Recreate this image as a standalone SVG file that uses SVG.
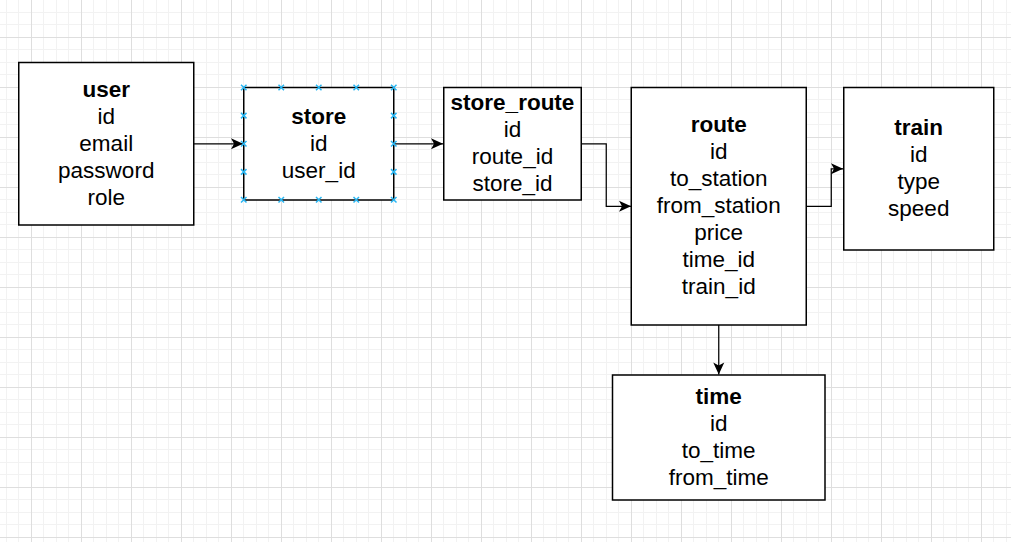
<svg xmlns="http://www.w3.org/2000/svg" width="1011" height="542" viewBox="0 0 1011 542">
<style>
.box{fill:#ffffff;stroke:#000000;stroke-width:1.5}
.t{font-family:"Liberation Sans",Arial,sans-serif;font-size:22.5px;fill:#000000;text-anchor:middle}
.b{font-weight:bold}
.edge{fill:none;stroke:#000000;stroke-width:1.25}
.sel{stroke:#29b6f2;stroke-width:1.5;fill:none}
</style>
<defs>
<pattern id="grid" patternUnits="userSpaceOnUse" x="31" y="37" width="50" height="50">
<rect x="12" y="0" width="1" height="50" fill="#f2f2f2"/>
<rect x="25" y="0" width="1" height="50" fill="#f2f2f2"/>
<rect x="37" y="0" width="1" height="50" fill="#f2f2f2"/>
<rect x="0" y="12" width="50" height="1" fill="#f2f2f2"/>
<rect x="0" y="25" width="50" height="1" fill="#f2f2f2"/>
<rect x="0" y="37" width="50" height="1" fill="#f2f2f2"/>
<rect x="0" y="0" width="1" height="50" fill="#dedede"/>
<rect x="0" y="0" width="50" height="1" fill="#dedede"/>
</pattern>
<marker id="arrow" markerUnits="userSpaceOnUse" markerWidth="16" markerHeight="14" viewBox="-14 -7 16 14" refX="0" refY="0" orient="auto">
<path d="M0,0 L-12,-5.5 L-9,0 L-12,5.5 Z" fill="#000000"/>
</marker>
</defs>
<rect x="0" y="0" width="1011" height="542" fill="#ffffff"/>
<rect x="0" y="0" width="1011" height="542" fill="url(#grid)"/>

<g id="connectors">
<path class="edge" d="M193.75,143.75 L243,143.75" marker-end="url(#arrow)"/>
<path class="edge" d="M393.75,143.75 L443,143.75" marker-end="url(#arrow)"/>
<path class="edge" d="M581.25,143.75 L606.25,143.75 L606.25,206.25 L631,206.25" marker-end="url(#arrow)"/>
<path class="edge" d="M806.25,206.25 L831.25,206.25 L831.25,168.75 L843,168.75" marker-end="url(#arrow)"/>
<path class="edge" d="M718.75,325 L718.75,374.5" marker-end="url(#arrow)"/>
</g>

<g id="user">
<rect class="box" x="18.75" y="62.5" width="175" height="162.5"/>
<text class="t b" x="106.25" y="96.8">user</text>
<text class="t" x="106.25" y="123.8">id</text>
<text class="t" x="106.25" y="150.8">email</text>
<text class="t" x="106.25" y="177.8">password</text>
<text class="t" x="106.25" y="204.8">role</text>
</g>

<g id="store">
<rect class="box" x="243.75" y="87.5" width="150" height="112.5"/>
<text class="t b" x="318.75" y="123.8">store</text>
<text class="t" x="318.75" y="150.8">id</text>
<text class="t" x="318.75" y="177.8">user_id</text>
<path class="sel" d="M241,84.75l5.5,5.5m0,-5.5l-5.5,5.5 M278.5,84.75l5.5,5.5m0,-5.5l-5.5,5.5 M316,84.75l5.5,5.5m0,-5.5l-5.5,5.5 M353.5,84.75l5.5,5.5m0,-5.5l-5.5,5.5 M391,84.75l5.5,5.5m0,-5.5l-5.5,5.5 M241,197l5.5,5.5m0,-5.5l-5.5,5.5 M278.5,197l5.5,5.5m0,-5.5l-5.5,5.5 M316,197l5.5,5.5m0,-5.5l-5.5,5.5 M353.5,197l5.5,5.5m0,-5.5l-5.5,5.5 M391,197l5.5,5.5m0,-5.5l-5.5,5.5 M241,112.9l5.5,5.5m0,-5.5l-5.5,5.5 M241,141l5.5,5.5m0,-5.5l-5.5,5.5 M241,169.1l5.5,5.5m0,-5.5l-5.5,5.5 M391,112.9l5.5,5.5m0,-5.5l-5.5,5.5 M391,141l5.5,5.5m0,-5.5l-5.5,5.5 M391,169.1l5.5,5.5m0,-5.5l-5.5,5.5"/>
</g>

<g id="store_route">
<rect class="box" x="443.75" y="87.5" width="137.5" height="112.5"/>
<text class="t b" x="512.5" y="110.3">store_route</text>
<text class="t" x="512.5" y="137.3">id</text>
<text class="t" x="512.5" y="164.3">route_id</text>
<text class="t" x="512.5" y="191.3">store_id</text>
</g>

<g id="route">
<rect class="box" x="631.25" y="87.5" width="175" height="237.5"/>
<text class="t b" x="718.75" y="132.3">route</text>
<text class="t" x="718.75" y="159.3">id</text>
<text class="t" x="718.75" y="186.3">to_station</text>
<text class="t" x="718.75" y="213.3">from_station</text>
<text class="t" x="718.75" y="240.3">price</text>
<text class="t" x="718.75" y="267.3">time_id</text>
<text class="t" x="718.75" y="294.3">train_id</text>
</g>

<g id="train">
<rect class="box" x="843.75" y="87.5" width="150" height="162.5"/>
<text class="t b" x="918.75" y="135.3">train</text>
<text class="t" x="918.75" y="162.3">id</text>
<text class="t" x="918.75" y="189.3">type</text>
<text class="t" x="918.75" y="216.3">speed</text>
</g>

<g id="time">
<rect class="box" x="612.5" y="375" width="212.5" height="125"/>
<text class="t b" x="718.75" y="403.6">time</text>
<text class="t" x="718.75" y="430.6">id</text>
<text class="t" x="718.75" y="457.6">to_time</text>
<text class="t" x="718.75" y="484.6">from_time</text>
</g>
</svg>
